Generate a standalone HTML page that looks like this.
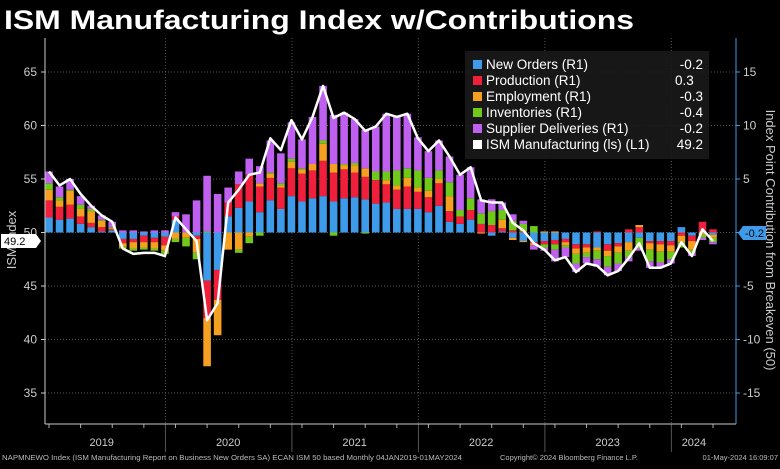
<!DOCTYPE html>
<html><head><meta charset="utf-8"><style>
html,body{margin:0;padding:0;background:#000;}
body{width:780px;height:464px;overflow:hidden;font-family:"Liberation Sans",sans-serif;}
</style></head><body>
<svg id="chart" width="780" height="464" xmlns="http://www.w3.org/2000/svg" font-family="Liberation Sans, sans-serif">
<rect width="780" height="464" fill="#000"/>
<text x="4" y="29" fill="#fff" font-size="27" font-weight="bold" textLength="630" lengthAdjust="spacingAndGlyphs">ISM Manufacturing Index w/Contributions</text>
<g id="grid"></g>
<g id="bars"></g>
<g id="line"></g>
<g id="axes"></g>
<g>
<rect x="465" y="51" width="244" height="108" fill="#1a1a1a" opacity="0.9"/>
<g font-size="13.5" fill="#fff">
<rect x="473" y="60" width="9" height="9" fill="#3d9bea"/><text x="486" y="69">New Orders (R1)</text><text x="703" y="69" text-anchor="end">-0.2</text>
<rect x="473" y="76" width="9" height="9" fill="#f0203c"/><text x="486" y="85">Production (R1)</text><text x="675" y="85">0.3</text>
<rect x="473" y="92" width="9" height="9" fill="#f5a020"/><text x="486" y="101">Employment (R1)</text><text x="703" y="101" text-anchor="end">-0.3</text>
<rect x="473" y="108" width="9" height="9" fill="#70c81a"/><text x="486" y="117">Inventories (R1)</text><text x="703" y="117" text-anchor="end">-0.4</text>
<rect x="473" y="124" width="9" height="9" fill="#c060f0"/><text x="486" y="133">Supplier Deliveries (R1)</text><text x="703" y="133" text-anchor="end">-0.2</text>
<rect x="473" y="140" width="9" height="9" fill="#fff"/><text x="486" y="149">ISM Manufacturing (ls) (L1)</text><text x="703" y="149" text-anchor="end">49.2</text>
</g></g>
<text transform="translate(16,240) rotate(-90)" fill="#ccc" font-size="13" text-anchor="middle">ISM Index</text>
<text transform="translate(766,240) rotate(90)" fill="#ccc" font-size="13" text-anchor="middle">Index Point Contribution from Breakeven (50)</text>
<g><path d="M1,234 H36 L41,241 L36,248 H1 Z" fill="#fff"/><text x="4" y="245" font-size="11" fill="#000">49.2</text></g>
<g><path d="M743,226 H766 V240 H743 L738,233 Z" fill="#3d9bea"/><text x="745" y="237" font-size="11" fill="#000">-0.2</text></g>
<text x="2" y="460" fill="#bbb" font-size="7.5" textLength="460" lengthAdjust="spacingAndGlyphs">NAPMNEWO Index (ISM Manufacturing Report on Business New Orders SA) ECAN ISM 50 based  Monthly 04JAN2019-01MAY2024</text>
<text x="500" y="460" fill="#bbb" font-size="7.5">Copyright© 2024 Bloomberg Finance L.P.</text>
<text x="778" y="460" fill="#bbb" font-size="7.5" text-anchor="end">01-May-2024 16:09:07</text>
</svg>
<script>
const ism=[55.7,54.4,55.0,53.6,52.5,51.6,51.0,48.5,48.0,48.1,48.1,47.8,
51.4,50.3,49.2,41.8,43.4,52.8,54.0,55.4,55.6,58.8,57.7,60.5,
58.7,60.8,63.7,60.7,61.2,60.6,59.5,59.9,61.1,60.8,61.1,58.8,
57.6,58.6,57.1,55.4,56.1,53.0,52.8,52.8,50.9,50.2,49.0,48.4,
47.4,47.7,46.3,47.1,46.9,46.0,46.4,47.6,49.0,46.7,46.7,47.1,
49.1,47.8,50.3,49.2];
const newOrders=[1.4,1.2,1.3,0.8,0.5,0.1,0.2,-0.6,-0.6,-0.3,-0.5,-0.4,
1.2,0,-0.3,-4.5,-3.5,1.5,2.3,2.9,1.9,3.0,2.2,3.4,
2.9,3.2,3.4,2.9,3.2,3.3,3.1,2.7,2.8,2.2,2.2,2.2,
1.9,2.5,1.0,0.8,1.2,0,-0.3,0.1,-0.5,-0.8,-0.9,-0.8,
-0.7,-0.6,-1.1,-1.1,-1.4,-1.1,-1.0,-0.9,-0.5,-0.8,-0.8,-0.8,
0.5,-0.3,0.1,-0.2];
const production=[1.6,1.2,1.3,0.7,0.4,0.4,0.1,-0.4,-0.3,-0.6,-0.4,-0.8,
0.3,0,-0.3,-3.5,-2.8,1.3,2.2,2.5,2.4,2.1,2.0,2.6,
2.6,2.6,3.3,2.7,2.7,2.3,2.1,2.2,1.7,1.8,2.1,1.6,
1.4,2.1,1.0,0.7,0.9,0.8,0.7,0.3,0.2,0.1,-0.1,-0.3,
-0.4,-0.3,-0.4,-0.3,0.1,-0.6,-0.3,0.3,0.5,-0.2,-0.3,-0.4,
-0.3,-0.5,0.9,0.3];
const employment=[1.0,0.6,1.3,0.7,1.1,0.6,0.1,-0.3,-0.6,-0.5,-0.6,-0.5,
-0.6,-0.5,-1.3,-4.5,-3.3,-1.6,-1.6,-0.4,0.3,0.4,0.2,0.6,
0.4,0.6,1.6,0.8,0.4,0.7,0.8,0,0.4,0.4,0.8,0.4,
0.6,0.4,1.4,0,0,-0.1,0,0.8,-0.2,-0.1,-0.2,0.1,
0.1,-0.3,-0.5,-0.5,-0.3,-0.5,-0.6,-0.8,0.2,-0.6,-0.7,-0.6,
-0.6,-0.8,-0.2,-0.3];
const inventories=[0.6,0.3,0.1,0.4,0.2,0.1,0.1,-0.2,-0.2,-0.2,-0.2,-0.3,
-0.3,-0.8,-0.6,0.1,0,0,-0.3,-0.6,-0.3,0.1,0.2,0.3,
0.1,0,0.3,-0.3,0.1,0.2,-0.1,0.8,0.8,1.4,0.9,1.6,
1.2,0.8,1.3,0.6,1.1,1.0,1.3,0.9,0.9,0.7,0.6,-0.3,
-0.5,-0.2,-0.9,-0.4,-0.8,-1.0,-1.0,-0.6,-1.0,-1.1,-1.0,-0.7,
-0.5,-0.3,-0.3,-0.4];
const supplier=[1.1,1.0,1.0,0.8,0.3,0.4,0.5,0.2,0.2,0.1,0.2,0.2,
0.4,1.7,3.0,5.2,3.6,1.4,1.2,1.5,1.6,3.0,2.8,3.4,
2.7,4.4,5.1,4.6,4.8,4.1,3.6,4.2,5.4,5.0,5.1,3.1,
2.5,2.8,2.4,3.3,2.9,1.3,1.1,0.7,0.6,0.3,-0.4,-0.3,
-1.1,-0.9,-0.8,-0.6,-0.7,-0.8,-0.7,-0.4,-0.2,-0.6,-0.5,-0.4,
0,-0.3,-0.2,-0.2];
const leftTicks=[35,40,45,50,55,60,65];
const rightTicks=[-15,-10,-5,0,5,10,15];
const years=["2019","2020","2021","2022","2023","2024"];

const NS="http://www.w3.org/2000/svg";
const X0=49, DX=10.54, PL=45, PR=736, PT=38, PB=424;
const y=v=>232.5-(v-50)*10.7;
const yr=v=>y(v+50);
const x=k=>X0+k*DX;
function mk(parent,tag,attrs){const e=document.createElementNS(NS,tag);for(const k in attrs)e.setAttribute(k,attrs[k]);document.getElementById(parent).appendChild(e);return e;}
leftTicks.forEach(t=>{
 const g=mk('grid','line',{x1:PL,x2:PR,y1:y(t),y2:y(t),stroke:'#555','stroke-dasharray':'1,2'});
 
 
 const tl=mk('axes','text',{x:PL-8,y:y(t)+4,fill:'#ccc','font-size':12,'text-anchor':'end'});
 tl.textContent=t;
 
 
 mk('axes','line',{x1:PL-4,x2:PL,y1:y(t),y2:y(t),stroke:'#ccc'});
});
rightTicks.forEach(t=>{
 const tl=mk('axes','text',{x:PR+7,y:yr(t)+4,fill:'#ccc','font-size':12});
 tl.textContent=t;
 
 
 mk('axes','line',{x1:PR,x2:PR+4,y1:yr(t),y2:yr(t),stroke:'#3d9bea'});
});
years.forEach((yv,i)=>{
 const k0=i*12, k1=Math.min(i*12+11,63);
 if(i>0){const s=mk('grid','line',{x1:x(k0-1)+0.5,x2:x(k0-1)+0.5,y1:PT,y2:PB,stroke:'#555','stroke-dasharray':'1,2'});
  
  
  mk('axes','line',{x1:x(k0-1)+0.5,x2:x(k0-1)+0.5,y1:PB,y2:452,stroke:'#555'});}
 const tl=mk('axes','text',{x:(x(k0-1)+x(k1))/2+(i==5?2:0),y:446,fill:'#ccc','font-size':11,'text-anchor':'middle'});
 tl.textContent=yv;
 
 
});
for(let k=0;k<64;k+=3)mk('axes','line',{x1:x(k),x2:x(k),y1:PB,y2:PB+4,stroke:'#aaa'});
mk('axes','line',{x1:PL,x2:PL,y1:PT,y2:PB,stroke:'#ccc'});
mk('axes','line',{x1:PL,x2:PR,y1:PB,y2:PB,stroke:'#ccc'});
mk('axes','line',{x1:PR,x2:PR,y1:PT,y2:PB,stroke:'#3d9bea'});
const series=[[newOrders,'#3d9bea','new-orders'],[production,'#f0203c','production'],[employment,'#f5a020','employment'],[inventories,'#70c81a','inventories'],[supplier,'#c060f0','supplier-deliveries']];
for(let k=0;k<64;k++){
 let pos=0,neg=0;
 series.forEach(([arr,col,nm])=>{
  const v=arr[k]; let a,b;
  if(v>=0){a=pos;b=pos+v;pos=b;}else{a=neg;b=neg+v;neg=b;}
  const r=mk('bars','rect',{x:x(k)-3.8,width:7.6,y:Math.min(yr(a),yr(b)),height:Math.abs(yr(a)-yr(b)),fill:col});
  
  
 });
}
const pl=mk('line','polyline',{points:ism.map((v,k)=>x(k)+','+y(v)).join(' '),fill:'none',stroke:'#fff','stroke-width':2.5,'stroke-linejoin':'round'});


</script>
</body></html>
